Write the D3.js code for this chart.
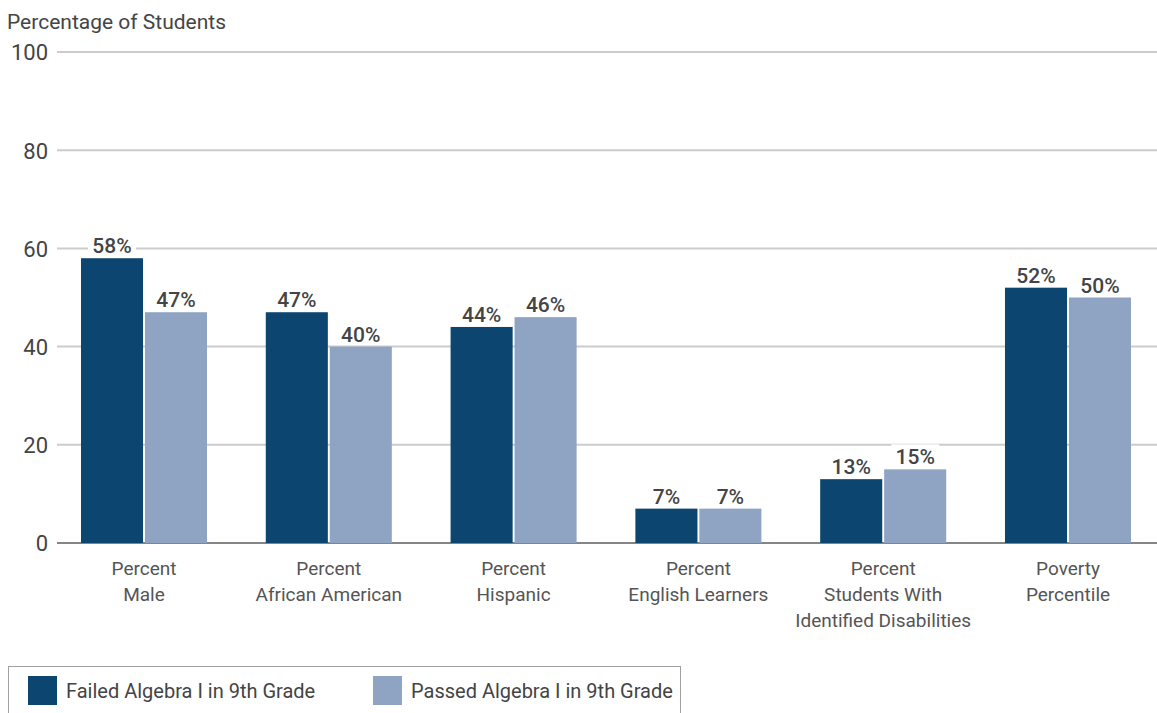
<!doctype html>
<html lang="en">
<head>
<meta charset="UTF-8">
<title>Algebra I in 9th Grade</title>
<style>
  body { margin: 0; background: #fff; }
  svg text { font-family: Roboto, "Liberation Sans", sans-serif; }
</style>
</head>
<body>
<div id="chart"></div>
<script src="https://d3js.org/d3.v7.min.js"></script>
<script>
  const categories = [
    ['Percent', 'Male'],
    ['Percent', 'African American'],
    ['Percent', 'Hispanic'],
    ['Percent', 'English Learners'],
    ['Percent', 'Students With', 'Identified Disabilities'],
    ['Poverty', 'Percentile']
  ]
  const seriesNames = ['Failed Algebra I in 9th Grade', 'Passed Algebra I in 9th Grade']
  const failed = [58, 47, 44, 7, 13, 52]
  const passed = [47, 40, 46, 7, 15, 50]
  const yTicks = [0, 20, 40, 60, 80, 100]
  const colors = ['#0b4570', '#8fa4c2']

  const width = 1157
  const height = 713

  const svg = d3.select('#chart')
    .append('svg')
    .attr('width', width)
    .attr('height', height)

  const keys = categories.map((c, i) => i)
  const rows = keys.map(i => ({ key: i, values: [failed[i], passed[i]] }))

  const y = d3.scaleLinear().domain([0, 100]).range([543, 52])

  const x0 = d3.scaleBand()
    .domain(keys)
    .range([51.6, 1160.4])
    .paddingInner(0.318)
    .paddingOuter(0.159)

  const x1 = d3.scaleBand()
    .domain([0, 1])
    .range([0, x0.bandwidth()])
    .paddingInner(0.03)

  // title
  svg.append('text')
    .attr('x', 7)
    .attr('y', 29)
    .attr('fill', '#444')
    .style('font-size', '21px')
    .text('Percentage of Students')

  // gridlines
  svg.append('g')
    .selectAll('line')
    .data(yTicks.filter(d => d > 0))
    .enter()
    .append('line')
    .attr('x1', 57)
    .attr('x2', width)
    .attr('y1', d => y(d))
    .attr('y2', d => y(d))
    .attr('stroke', '#cccccc')
    .attr('stroke-width', 2)

  // y axis labels
  const yAxis = d3.axisLeft(y)
    .tickValues(yTicks)
    .tickSize(0)
    .tickPadding(9)

  const yg = svg.append('g')
    .attr('transform', 'translate(57,0)')
    .call(yAxis)
  yg.select('.domain').remove()
  yg.selectAll('text')
    .attr('fill', '#444')
    .style('font-size', '22px')
    .attr('dy', '0.36em')

  // baseline
  svg.append('line')
    .attr('x1', 57)
    .attr('x2', width)
    .attr('y1', y(0))
    .attr('y2', y(0))
    .attr('stroke', '#858585')
    .attr('stroke-width', 2)

  const groups = svg.append('g')
    .selectAll('g')
    .data(rows)
    .enter()
    .append('g')
    .attr('transform', d => `translate(${x0(d.key)},0)`)

  groups.selectAll('rect')
    .data(d => d.values)
    .enter()
    .append('rect')
    .attr('x', (v, i) => x1(i))
    .attr('y', v => y(v))
    .attr('width', x1.bandwidth())
    .attr('height', v => y(0) - y(v))
    .attr('fill', (v, i) => colors[i])

  // value labels with white boxes
  const labels = groups.selectAll('g.lbl')
    .data(d => d.values)
    .enter()
    .append('g')
    .attr('class', 'lbl')
    .attr('transform', (v, i) => `translate(${x1(i) + x1.bandwidth() / 2},${y(v) - 5})`)

  labels.append('rect')
    .attr('x', -24)
    .attr('y', -20)
    .attr('width', 48)
    .attr('height', 22)
    .attr('fill', '#fff')

  labels.append('text')
    .attr('text-anchor', 'middle')
    .attr('fill', '#444')
    .style('font-size', '21px')
    .style('font-weight', 500)
    .text(v => v + '%')

  // category labels
  const catText = svg.append('g')
    .selectAll('text')
    .data(rows)
    .enter()
    .append('text')
    .attr('text-anchor', 'middle')
    .attr('fill', '#555')
    .style('font-size', '19px')
    .attr('x', d => x0(d.key) + x0.bandwidth() / 2)
    .attr('y', 575)

  catText.selectAll('tspan')
    .data(d => categories[d.key])
    .enter()
    .append('tspan')
    .attr('x', function () { return d3.select(this.parentNode).attr('x') })
    .attr('dy', (t, i) => i === 0 ? 0 : 26)
    .text(t => t)

  // legend
  svg.append('rect')
    .attr('x', 8.5)
    .attr('y', 666.5)
    .attr('width', 672)
    .attr('height', 60)
    .attr('fill', 'none')
    .attr('stroke', '#a0a0a0')
    .attr('stroke-width', 1)

  const legendX = [28, 373]
  const leg = svg.append('g')
    .selectAll('g')
    .data(seriesNames)
    .enter()
    .append('g')
    .attr('transform', (d, i) => `translate(${legendX[i]},676)`)

  leg.append('rect')
    .attr('width', 29)
    .attr('height', 29)
    .attr('fill', (d, i) => colors[i])

  leg.append('text')
    .attr('x', 38)
    .attr('y', 22)
    .attr('fill', '#444')
    .style('font-size', '20px')
    .text(d => d)
</script>
</body>
</html>
